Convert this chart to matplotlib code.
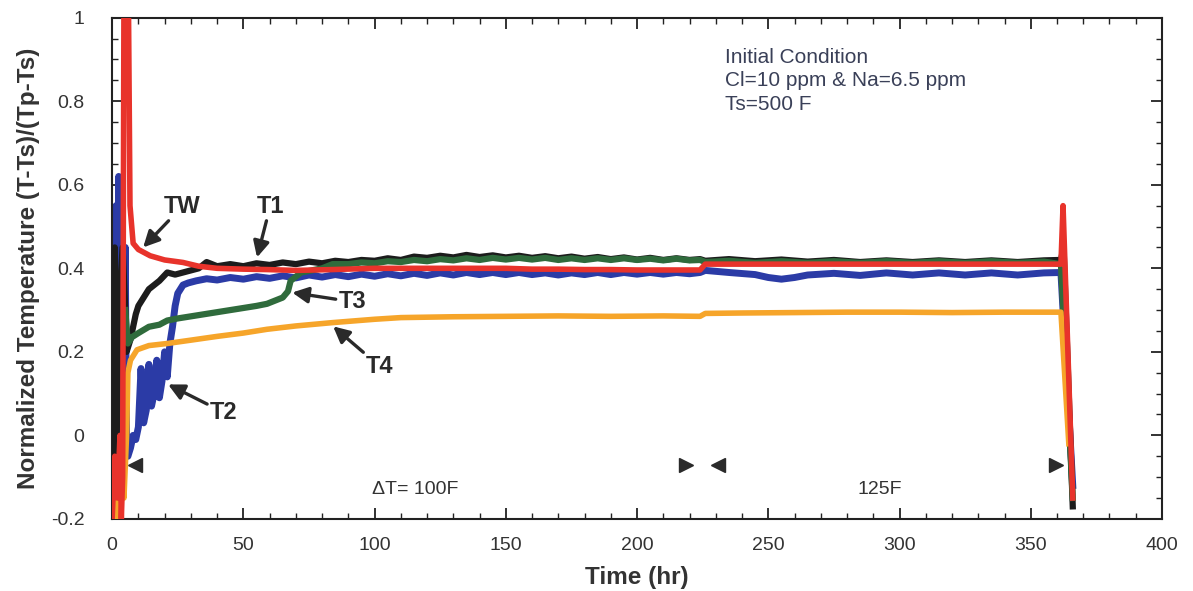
import matplotlib.pyplot as plt
from matplotlib.ticker import MultipleLocator

plt.rcParams['font.family'] = ['Liberation Sans', 'DejaVu Sans']

# thermocouple readings, normalized (T-Ts)/(Tp-Ts), time in hours
t1_time = [0.5, 1, 1.5, 2.5, 4, 5, 5.5, 6, 7, 8, 9, 10, 12, 14, 16, 18, 21, 24, 27, 30, 33, 36, 40,
           45, 50, 55, 60, 65, 70, 75, 80, 85, 90, 95, 100, 105, 110, 115, 120, 125, 130, 135, 140, 145,
           150, 155, 160, 165, 170, 175, 180, 185, 190, 195, 200, 205, 210, 215, 220,
           224, 226, 235, 245, 255, 265, 275, 285, 295, 305, 315, 325, 335, 345, 355, 361.5, 362.5, 366]
t1_vals = [-0.2, 0.45, -0.1, 0.3, 0.45, 0.3, 0.2, 0.21, 0.23, 0.26, 0.29, 0.31, 0.33, 0.35, 0.36, 0.37, 0.39, 0.385, 0.39, 0.395, 0.40, 0.415, 0.405,
           0.41, 0.405, 0.412, 0.408, 0.414, 0.41, 0.416, 0.412, 0.418, 0.415, 0.42, 0.418, 0.424, 0.42, 0.428, 0.425, 0.43, 0.426, 0.432, 0.427, 0.431,
           0.426, 0.43, 0.425, 0.429, 0.424, 0.428, 0.423, 0.427, 0.422, 0.426, 0.421, 0.425, 0.42, 0.424, 0.42,
           0.422, 0.418, 0.422, 0.417, 0.421, 0.416, 0.42, 0.415, 0.419, 0.415, 0.419, 0.415, 0.419, 0.415, 0.419, 0.42, 0.45, -0.17]

t2_time = [0.5, 1, 1.5, 2, 2.5, 3, 3.5, 4, 5, 5.5, 6, 7, 8, 9, 10, 11, 12, 13, 14, 15, 16, 17, 18, 19, 20, 21,
           22, 23, 24, 25, 27, 29, 32, 36, 40, 45, 50, 55, 60, 65, 70, 75, 80, 85, 90, 95, 100, 105, 110, 115, 120,
           125, 130, 135, 140, 145, 150, 155, 160, 165, 170, 175, 180, 185, 190, 195, 200, 205, 210, 215, 220,
           224, 226, 235, 245, 250, 255, 260, 265, 275, 285, 295, 305, 315, 325, 335, 345, 355, 361.5, 366]
t2_vals = [-0.1, 0.1, 0.55, 0.2, 0.62, 0.1, 0.45, 0.0, 0.45, -0.05, -0.05, -0.03, 0.0, -0.01, 0.02, 0.16, 0.03, 0.06, 0.17, 0.07, 0.1, 0.18, 0.09, 0.13, 0.2, 0.14,
           0.22, 0.26, 0.31, 0.34, 0.36, 0.365, 0.37, 0.375, 0.372, 0.378, 0.374, 0.38, 0.376, 0.382, 0.377, 0.384, 0.379, 0.385, 0.38, 0.386, 0.381, 0.387, 0.382, 0.388, 0.383,
           0.389, 0.384, 0.39, 0.385, 0.39, 0.385, 0.39, 0.385, 0.389, 0.384, 0.389, 0.385, 0.39, 0.385, 0.39, 0.386, 0.39, 0.386, 0.39, 0.387,
           0.39, 0.395, 0.39, 0.385, 0.378, 0.374, 0.378, 0.384, 0.388, 0.383, 0.389, 0.384, 0.389, 0.384, 0.389, 0.384, 0.389, 0.39, -0.12]

t3_time = [5, 6, 7.5, 10, 14, 18, 21, 25, 30, 35, 40, 45, 50, 55, 59, 63, 65, 67, 68, 70, 72, 76, 80, 84, 90,
           95, 100, 105, 110, 115, 120, 125, 130, 135, 140, 145, 150, 155, 160, 165, 170, 175, 180, 185, 190,
           195, 200, 205, 210, 215, 220, 224, 226, 235, 245, 255, 265, 275, 285, 295, 305, 315, 325, 335, 345,
           355, 361.5, 366]
t3_vals = [0.3, 0.22, 0.235, 0.245, 0.26, 0.265, 0.275, 0.28, 0.285, 0.29, 0.295, 0.30, 0.305, 0.31, 0.315, 0.325, 0.33, 0.345, 0.37, 0.38, 0.39, 0.395, 0.40, 0.41, 0.41,
           0.414, 0.412, 0.417, 0.415, 0.42, 0.417, 0.422, 0.419, 0.424, 0.42, 0.425, 0.421, 0.425, 0.421, 0.425, 0.42, 0.424, 0.42, 0.424, 0.42,
           0.424, 0.42, 0.423, 0.419, 0.423, 0.419, 0.42, 0.415, 0.418, 0.413, 0.417, 0.413, 0.417, 0.413, 0.417, 0.413, 0.417, 0.413, 0.417, 0.413,
           0.416, 0.41, -0.15]

t4_time = [0.5, 1.5, 2.5, 3.5, 4.5, 5.5, 6, 7, 9.5, 14, 21, 30, 40, 50, 59, 70, 84, 100, 110, 130, 150, 170,
           190, 210, 224, 226, 240, 260, 280, 300, 320, 340, 356, 361.5, 364.5]
t4_vals = [-0.2, -0.1, -0.2, -0.05, -0.15, 0.0, 0.15, 0.18, 0.205, 0.215, 0.22, 0.228, 0.237, 0.245, 0.254, 0.262, 0.27, 0.278, 0.282, 0.284, 0.285, 0.286,
           0.285, 0.286, 0.285, 0.292, 0.293, 0.294, 0.295, 0.295, 0.294, 0.295, 0.295, 0.295, -0.02]

tw_time = [0, 1, 2, 3, 3.5, 4, 4.5, 6.2, 6.8, 8, 10, 14.5, 20, 27, 33, 40, 50, 59, 70, 84, 100, 110, 120,
           130, 140, 150, 160, 170, 180, 190, 200, 210, 220, 224, 226, 240, 260, 280, 300, 320, 340, 356, 361.5, 362.3, 366]
tw_vals = [-0.2, -0.05, -0.15, 0.0, -0.2, -0.1, 1.05, 1.05, 0.55, 0.46, 0.445, 0.43, 0.42, 0.414, 0.405, 0.40, 0.398, 0.397, 0.395, 0.397, 0.40, 0.40, 0.40,
           0.40, 0.40, 0.40, 0.398, 0.398, 0.397, 0.397, 0.396, 0.396, 0.396, 0.396, 0.41, 0.41, 0.41, 0.41, 0.41, 0.41, 0.41, 0.41, 0.41, 0.55, -0.15]

fig = plt.figure(figsize=(11.93, 5.91), dpi=100)
ax = fig.add_axes([0.094, 0.122, 0.880, 0.848])

ax.plot(t2_time, t2_vals, color='#2b3ba6', lw=5.0, zorder=2)
ax.plot(t1_time, t1_vals, color='#1c1c1c', lw=4.5, zorder=3)
ax.plot(t3_time, t3_vals, color='#2f6b3c', lw=4.5, zorder=4)
ax.plot(t4_time, t4_vals, color='#f6a52a', lw=4.0, zorder=5)
ax.plot(tw_time, tw_vals, color='#e8332b', lw=4.0, zorder=6)

ax.set_xlim(0, 400)
ax.set_ylim(-0.2, 1)
ax.xaxis.set_major_locator(MultipleLocator(50))
ax.xaxis.set_minor_locator(MultipleLocator(10))
ax.yaxis.set_minor_locator(MultipleLocator(0.05))
ax.set_yticks([-0.2, 0, 0.2, 0.4, 0.6, 0.8, 1])
ax.set_yticklabels(['-0.2', '0', '0.2', '0.4', '0.6', '0.8', '1'])
ax.tick_params(which='both', direction='in', top=True, right=True, color='#222222',
               labelsize=14, labelcolor='#333333')
ax.tick_params(axis='x', pad=13)
ax.tick_params(axis='y', pad=20)
ax.tick_params(which='major', length=8, width=1.3)
ax.tick_params(which='minor', length=4, width=1.0)
for s in ax.spines.values():
    s.set_linewidth(1.5)
    s.set_color('#222222')

ax.set_xlabel('Time (hr)', fontsize=17.5, fontweight='bold', color='#333333', labelpad=9)
ax.set_ylabel('Normalized Temperature (T-Ts)/(Tp-Ts)', fontsize=17.5, fontweight='bold',
              color='#333333', labelpad=8)

# curve labels with arrows
arrow = dict(arrowstyle='-|>', color='#2a2a2a', lw=2.4, mutation_scale=24, shrinkA=0, shrinkB=0)
lab = dict(fontsize=17, fontweight='bold', color='#2a2a2a', ha='center', va='center')
ax.annotate('TW', xy=(11.8, 0.45), xytext=(26.7, 0.548), arrowprops=arrow, **lab)
ax.annotate('T1', xy=(55.2, 0.426), xytext=(60.2, 0.548), arrowprops=arrow, **lab)
ax.annotate('T3', xy=(68.6, 0.342), xytext=(91.5, 0.32), arrowprops=arrow, **lab)
ax.annotate('T4', xy=(84.2, 0.261), xytext=(102, 0.165), arrowprops=arrow, **lab)
ax.annotate('T2', xy=(21.3, 0.122), xytext=(42.5, 0.055), arrowprops=arrow, **lab)

# delta-T period markers
ax.plot([8.8, 230.9], [-0.072, -0.072], ls='none', marker='<', ms=10, color='#2a2a2a')
ax.plot([218.7, 359.6], [-0.072, -0.072], ls='none', marker='>', ms=10, color='#2a2a2a')
ax.text(115.4, -0.13, '\u0394T= 100F', fontsize=14, color='#333333', ha='center', va='center')
ax.text(292.6, -0.13, '125F', fontsize=14, color='#333333', ha='center', va='center')

ax.text(233.5, 0.928, 'Initial Condition\nCl=10 ppm & Na=6.5 ppm\nTs=500 F', fontsize=15,
        color='#3a4058', ha='left', va='top', linespacing=1.3)

fig.savefig('out.png', dpi=100)
